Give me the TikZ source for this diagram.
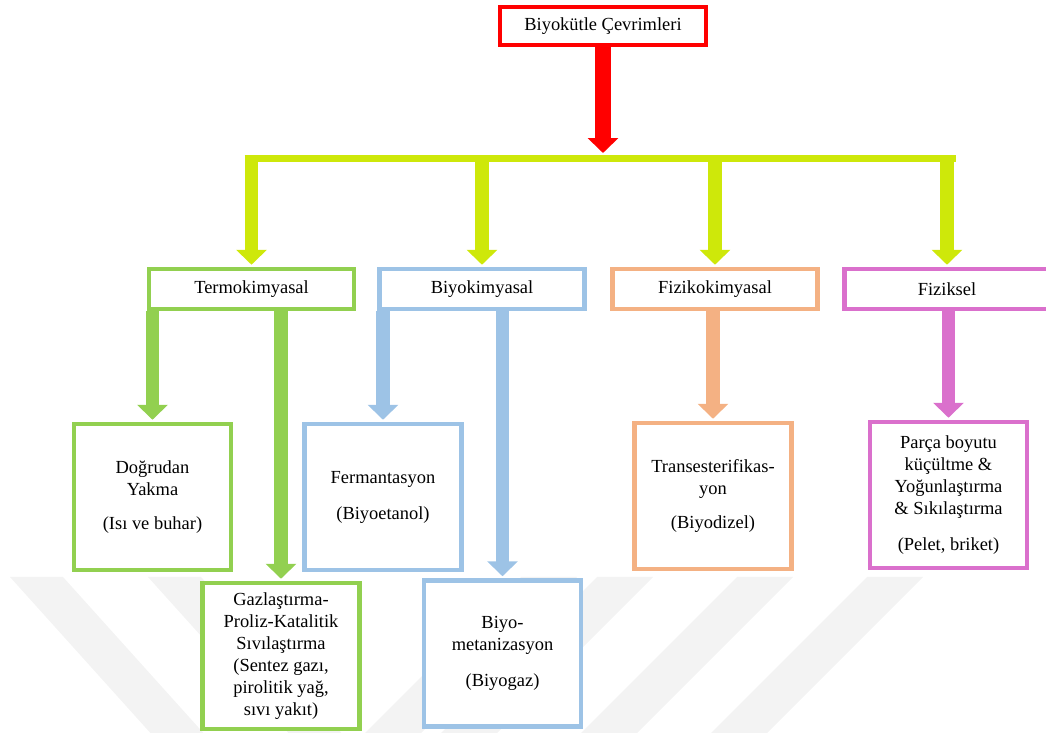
\documentclass[tikz,border=0pt]{standalone}
\usepackage{fontspec}
\setmainfont{Liberation Serif}
\usepackage{xcolor}
\usepackage{tikz}
\usetikzlibrary{shapes,arrows,positioning,calc,arrows.meta}

\definecolor{cevred}{RGB}{255,0,0}
\definecolor{cevlime}{RGB}{206,232,10}
\definecolor{termogreen}{RGB}{146,208,80}
\definecolor{biyoblue}{RGB}{157,195,230}
\definecolor{fizorange}{RGB}{244,177,131}
\definecolor{fizpink}{RGB}{218,112,204}
\definecolor{wmgray}{RGB}{243,243,243}

\begin{document}
\begin{tikzpicture}[x=0.02cm, y=-0.02cm,
    font=\fontsize{10.5}{12.5}\selectfont,
    box/.style={draw, fill=white, line width=0.09cm, align=center, inner sep=2pt},
    topbox/.style={box, draw=cevred, line width=0.08cm, minimum width=4.12cm, minimum height=0.76cm},
    catbox/.style={box, minimum width=4.1cm, minimum height=0.8cm},
    leafbox/.style={box, minimum width=3.14cm, minimum height=2.92cm},
    fatarrow/.style={line width=0.27cm, -{Triangle[width=0.6cm,length=0.3cm]}, shorten >=0.04cm}]
    \useasboundingbox (0,0) rectangle (1046,733);

    % faint watermark stripes
    \begin{scope}
        \clip (0,577) rectangle (1046,735);
        \foreach \x in {10,148} \fill[wmgray] (\x,577) -- ++(53,0) -- ++(144,160) -- ++(-53,0) -- cycle;
        \foreach \x in {521,597,737,867} \fill[wmgray] (\x,577) -- ++(56,0) -- ++(-160,160) -- ++(-56,0) -- cycle;
    \end{scope}

    \node [topbox] (root) at (603,26) {Biyokütle Çevrimleri};
    \coordinate (hub) at (603,155);
    \coordinate (busL) at (244.5,158.5);
    \coordinate (busR) at (955.5,158.5);

    \node [catbox, draw=termogreen] (termo) at (251.5,289) {Termokimyasal};
    \node [catbox, draw=biyoblue] (biyo) at (482,289) {Biyokimyasal};
    \node [catbox, draw=fizorange] (fizkim) at (715,289) {Fizikokimyasal};
    \node [catbox, draw=fizpink] (fiz) at (947,289) {Fiziksel};

    \node [leafbox, draw=termogreen] (yakma) at (152.5,497) {Doğrudan\\Yakma\\[7pt](Isı ve buhar)};
    \node [leafbox, draw=termogreen] (gaz) at (281,656) {Gazlaştırma-\\Proliz-Katalitik\\Sıvılaştırma\\(Sentez gazı,\\pirolitik yağ,\\sıvı yakıt)};
    \node [leafbox, draw=biyoblue] (ferm) at (383,497) {Fermantasyon\\[8pt](Biyoetanol)};
    \node [leafbox, draw=biyoblue] (metan) at (502.5,653.5) {Biyo-\\metanizasyon\\[8pt](Biyogaz)};
    \node [leafbox, draw=fizorange] (trans) at (713,496) {Transesterifikas-\\yon\\[7pt](Biyodizel)};
    \node [leafbox, draw=fizpink] (pelet) at (948.5,495) {Parça boyutu\\küçültme \&\\Yoğunlaştırma\\\& Sıkılaştırma\\[8pt](Pelet, briket)};

    % main split
    \draw [fatarrow, cevred, line width=0.32cm] (root.south) -- (hub);
    \draw [cevlime, line width=0.14cm] (busL) -- (busR);
    \draw [fatarrow, cevlime] (termo.north |- busL) -- (termo.north);
    \draw [fatarrow, cevlime] (biyo.north |- busL) -- (biyo.north);
    \draw [fatarrow, cevlime] (fizkim.north |- busL) -- (fizkim.north);
    \draw [fatarrow, cevlime] (fiz.north |- busL) -- (fiz.north);

    % methods
    \draw [fatarrow, termogreen] (yakma.north |- termo.south) -- (yakma.north);
    \draw [fatarrow, termogreen] (gaz.north |- termo.south) -- (gaz.north);
    \draw [fatarrow, biyoblue] (ferm.north |- biyo.south) -- (ferm.north);
    \draw [fatarrow, biyoblue] (metan.north |- biyo.south) -- (metan.north);
    \draw [fatarrow, fizorange] (trans.north |- fizkim.south) -- (trans.north);
    \draw [fatarrow, fizpink] (pelet.north |- fiz.south) -- (pelet.north);
\end{tikzpicture}
\end{document}
